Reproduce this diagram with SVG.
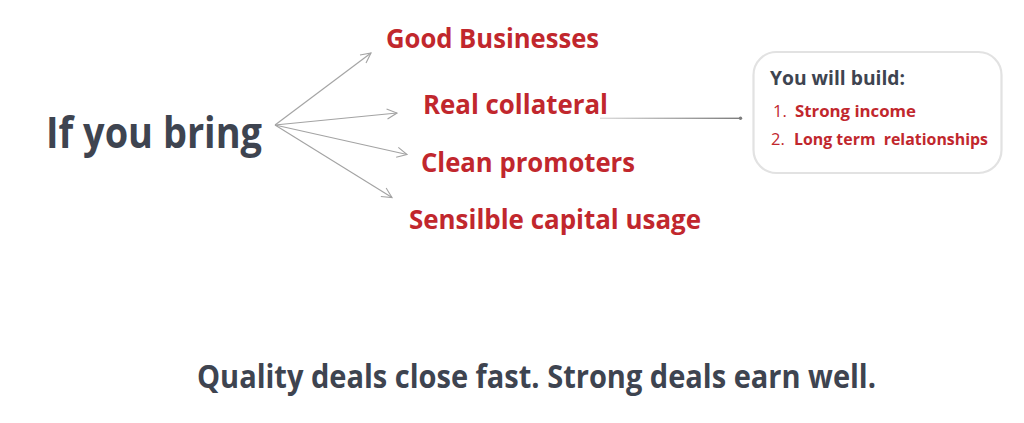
<svg xmlns="http://www.w3.org/2000/svg" width="1024" height="423" viewBox="0 0 1024 423">
<style>
.t{font-family:"Open Sans","Noto Sans","Liberation Sans",sans-serif;font-weight:700}
.red{fill:#c1272d}
.dark{fill:#3e4450}
.arr{stroke:#a3a3a3;stroke-width:1.1;fill:none}
</style>
<defs>
<marker id="ah" viewBox="0 0 12 12" markerWidth="12" markerHeight="12" refX="11" refY="6" orient="auto" markerUnits="userSpaceOnUse">
<path d="M1,1 L11,6 L1,11" fill="none" stroke="#a3a3a3" stroke-width="1.1"/>
</marker>
<linearGradient id="lg" x1="0" x2="1" y1="0" y2="0">
<stop offset="0" stop-color="#dcdcdc"/>
<stop offset="1" stop-color="#7c7c7c"/>
</linearGradient>
</defs>
<rect width="1024" height="423" fill="#ffffff"/>
<g id="source">
<text class="t dark" x="46" y="148" font-size="43" textLength="216" lengthAdjust="spacingAndGlyphs">If you bring</text>
</g>
<g id="connectors">
<line class="arr" x1="275" y1="125" x2="371" y2="53" marker-end="url(#ah)"/>
<line class="arr" x1="275" y1="125" x2="397" y2="113" marker-end="url(#ah)"/>
<line class="arr" x1="275" y1="125" x2="407" y2="154.5" marker-end="url(#ah)"/>
<line class="arr" x1="275" y1="125" x2="392" y2="197.5" marker-end="url(#ah)"/>
<rect x="600" y="117.6" width="140" height="1.4" fill="url(#lg)"/>
<circle cx="740.5" cy="118.3" r="1.7" fill="#7c7c7c"/>
</g>
<g id="good-businesses">
<text class="t red" x="386" y="48" font-size="26" textLength="213" lengthAdjust="spacingAndGlyphs">Good Businesses</text>
</g>
<g id="real-collateral">
<text class="t red" x="423" y="114" font-size="26" textLength="185" lengthAdjust="spacingAndGlyphs">Real collateral</text>
</g>
<g id="clean-promoters">
<text class="t red" x="421" y="171.5" font-size="26" textLength="214" lengthAdjust="spacingAndGlyphs">Clean promoters</text>
</g>
<g id="sensible-capital">
<text class="t red" x="409" y="228.5" font-size="26" textLength="292" lengthAdjust="spacingAndGlyphs">Sensilble capital usage</text>
</g>
<g id="result-box">
<rect x="753.5" y="52" width="248" height="121" rx="23" ry="23" fill="#ffffff" stroke="#e2e2e2" stroke-width="2.2"/>
<text class="t dark" x="770" y="85" font-size="19.5" textLength="135" lengthAdjust="spacingAndGlyphs">You will build:</text>
<text x="773" y="117" font-size="16.5" font-family="Open Sans,Noto Sans,sans-serif" fill="#c1272d">1.</text>
<text class="t red" x="795" y="117" font-size="16.5" textLength="121" lengthAdjust="spacingAndGlyphs">Strong income</text>
<text x="771" y="145" font-size="16.5" font-family="Open Sans,Noto Sans,sans-serif" fill="#c1272d">2.</text>
<text class="t red" x="794" y="145" font-size="16.5" textLength="194" lengthAdjust="spacingAndGlyphs" xml:space="preserve">Long term  relationships</text>
</g>
<g id="footer">
<text class="t dark" x="197" y="388" font-size="33" textLength="679" lengthAdjust="spacingAndGlyphs">Quality deals close fast. Strong deals earn well.</text>
</g>
</svg>
